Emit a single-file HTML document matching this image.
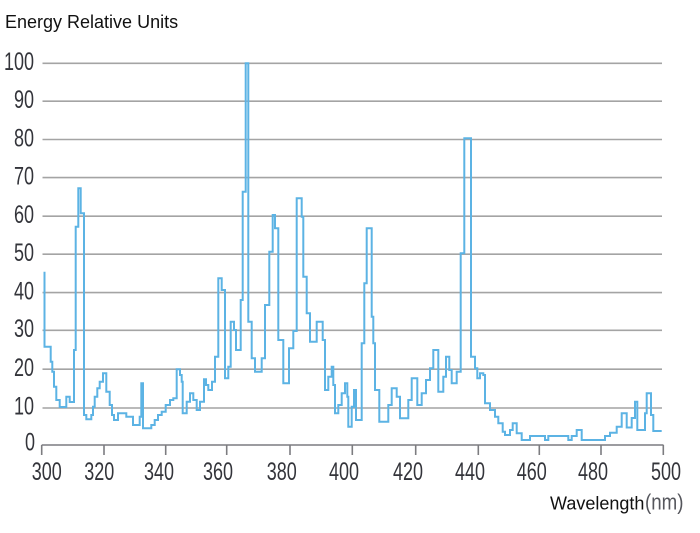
<!DOCTYPE html>
<html>
<head>
<meta charset="utf-8">
<style>
  html, body { margin: 0; padding: 0; background: #ffffff; }
  body { width: 700px; height: 533px; overflow: hidden; }
  svg { display: block; }
  .num { font-family: "Liberation Sans", "DejaVu Sans", sans-serif; font-size: 25px; fill: #33343a; }
</style>
</head>
<body>
<svg width="700" height="533" viewBox="0 0 700 533" xmlns="http://www.w3.org/2000/svg">
  <rect x="0" y="0" width="700" height="533" fill="#ffffff"/>

  <!-- title -->
  <text x="5" y="28" font-family="Liberation Sans, sans-serif" font-size="18" fill="#111111">Energy Relative Units</text>

  <!-- gridlines -->
  <g stroke="#a4a4a4" stroke-width="1.6" fill="none">
    <line x1="42.5" y1="63.3" x2="662" y2="63.3"/>
    <line x1="42.5" y1="101.2" x2="662" y2="101.2"/>
    <line x1="42.5" y1="139.5" x2="662" y2="139.5"/>
    <line x1="42.5" y1="177.6" x2="662" y2="177.6"/>
    <line x1="42.5" y1="216.2" x2="662" y2="216.2"/>
    <line x1="42.5" y1="254.2" x2="662" y2="254.2"/>
    <line x1="42.5" y1="292.6" x2="662" y2="292.6"/>
    <line x1="42.5" y1="330.3" x2="662" y2="330.3"/>
    <line x1="42.5" y1="369.2" x2="662" y2="369.2"/>
    <line x1="42.5" y1="408" x2="662" y2="408"/>
  </g>

  <!-- x axis -->
  <g stroke="#7c7c80" stroke-width="1.6" fill="none">
    <line x1="41.7" y1="445" x2="663.5" y2="445"/>
    <line x1="41.7" y1="445" x2="41.7" y2="455"/>
    <line x1="104" y1="445" x2="104" y2="455"/>
    <line x1="165.7" y1="445" x2="165.7" y2="455"/>
    <line x1="226.7" y1="445" x2="226.7" y2="455"/>
    <line x1="290" y1="445" x2="290" y2="455"/>
    <line x1="352.3" y1="445" x2="352.3" y2="455"/>
    <line x1="415.7" y1="445" x2="415.7" y2="455"/>
    <line x1="478.3" y1="445" x2="478.3" y2="455"/>
    <line x1="539.3" y1="445" x2="539.3" y2="455"/>
    <line x1="601" y1="445" x2="601" y2="455"/>
    <line x1="663.3" y1="445" x2="663.3" y2="455"/>
  </g>

  <!-- y labels -->
  <g class="num" text-anchor="end">
    <text transform="translate(34,70) scale(0.72,1)">100</text>
    <text transform="translate(34,108) scale(0.72,1)">90</text>
    <text transform="translate(34,146.5) scale(0.72,1)">80</text>
    <text transform="translate(34,184.5) scale(0.72,1)">70</text>
    <text transform="translate(34,223) scale(0.72,1)">60</text>
    <text transform="translate(34,261) scale(0.72,1)">50</text>
    <text transform="translate(34,299.5) scale(0.72,1)">40</text>
    <text transform="translate(34,337) scale(0.72,1)">30</text>
    <text transform="translate(34,376) scale(0.72,1)">20</text>
    <text transform="translate(34,414.5) scale(0.72,1)">10</text>
    <text transform="translate(35,450.5) scale(0.72,1)">0</text>
  </g>

  <!-- x labels -->
  <g class="num" text-anchor="middle">
    <text transform="translate(46.7,480) scale(0.72,1)">300</text>
    <text transform="translate(99.3,480) scale(0.72,1)">320</text>
    <text transform="translate(159,480) scale(0.72,1)">340</text>
    <text transform="translate(218,480) scale(0.72,1)">360</text>
    <text transform="translate(281.7,480) scale(0.72,1)">380</text>
    <text transform="translate(344,480) scale(0.72,1)">400</text>
    <text transform="translate(408,480) scale(0.72,1)">420</text>
    <text transform="translate(470,480) scale(0.72,1)">440</text>
    <text transform="translate(531.7,480) scale(0.72,1)">460</text>
    <text transform="translate(593,480) scale(0.72,1)">480</text>
    <text transform="translate(666,480) scale(0.72,1)">500</text>
  </g>

  <!-- x axis title -->
  <text x="550" y="509.5" font-family="Liberation Sans, sans-serif" font-size="18" fill="#111111">Wavelength</text>
  <text transform="translate(645,509.5) scale(0.85,1)" font-family="Liberation Sans, sans-serif" font-size="22" fill="#55565c">(nm)</text>

  <!-- series -->
  <path fill="none" stroke="#5cb3e4" stroke-width="2" stroke-linejoin="miter" d="
    M44.5,271.7 V346.7 H50.7 V361.7 H52.3 V371.7 H54 V386.7 H56.3 V400 H59.7 V407 H66.3 V396.7 H69.7 V402 H74 V350 H75.7 V226.7 H78.3 V188.3 H80.7 V213.3 H84 V415 H86.3 V419.3 H91.3 V415 H93 V406.7 H94.7 V396.7 H97.3 V388.3 H99.7 V381.7 H103 V373.3 H106.3 V391.7 H109.7 V405 H112 V415 H114 V420 H118 V413.3 H126.3 V416.7 H133 V425 H139.7 V416.7 H141.3 V383.3 H143 V428.3 H151.3 V425 H154.7 V420 H158 V415 H161.7 V411.7 H165.7 V405 H170 V400 H173.3 V398.3 H176.7 V369.3 H180 V375 H181.7 V381.7 H182.7 V413.3 H186.7 V401.7 H190 V393.3 H193.3 V400 H196.7 V410 H200 V401.7 H204 V379.3 H206 V385 H208.3 V390 H212 V381.7 H215 V356.7 H218.3 V278.3 H221.7 V290 H225 V378.3 H228.3 V366.7 H230.7 V321.7 H234 V330 H236 V350 H240.7 V300 H242.7 V191.7 H245.7 V63.3 H248.3 V321.7 H251.7 V358.3 H255 V371.7 H261.7 V358.3 H265 V305 H269.3 V251.7 H272.7 V215 H275 V228.3 H278.3 V340 H283.3 V383.3 H289 V348.3 H293.3 V331 H296.7 V198.3 H301.7 V216.7 H303.3 V276.7 H306.7 V313.3 H310 V341.7 H316.7 V321.7 H322.7 V340 H325 V390 H328.3 V376.7 H331.7 V366.7 H333.3 V385 H335 V413.3 H338.3 V405 H341.7 V393.3 H345 V383.3 H347.3 V396.7 H348.3 V426.7 H351.7 V406.7 H354 V390 H356 V420 H361.7 V343.3 H364.3 V283.3 H366.7 V228.3 H371.7 V316.7 H373.3 V343.3 H375 V390 H379.3 V421.7 H388.3 V405 H391.7 V388.3 H396.7 V396.7 H400 V418.3 H408.3 V400 H411.7 V378.3 H417.3 V405 H421.7 V393.3 H426 V380 H430 V368.3 H433.3 V350 H438.3 V391.7 H443.3 V376.7 H446 V356.7 H449.3 V370 H451.7 V383.3 H456.7 V371.7 H460.7 V253.3 H464.3 V138.3 H471 V356.7 H475 V368.3 H477.3 V378.3 H480 V373.3 H483.3 V375 H485 V403.3 H490 V410 H495 V416.7 H498.3 V423.3 H502.7 V431.7 H505 V435 H510 V430 H512.7 V423.3 H516.7 V433.3 H521.7 V440 H530 V436 H545 V440 H548.3 V436 H568.3 V440 H571.7 V436 H576.7 V430 H581.7 V440 H605 V436 H610 V432.7 H616.7 V426.7 H621.7 V413.3 H626.7 V427.5 H631.7 V418 H635 V401.7 H637.3 V430 H645 V413.3 H646.7 V393.3 H651 V415 H653.3 V431 H661.7"/>
</svg>
</body>
</html>
